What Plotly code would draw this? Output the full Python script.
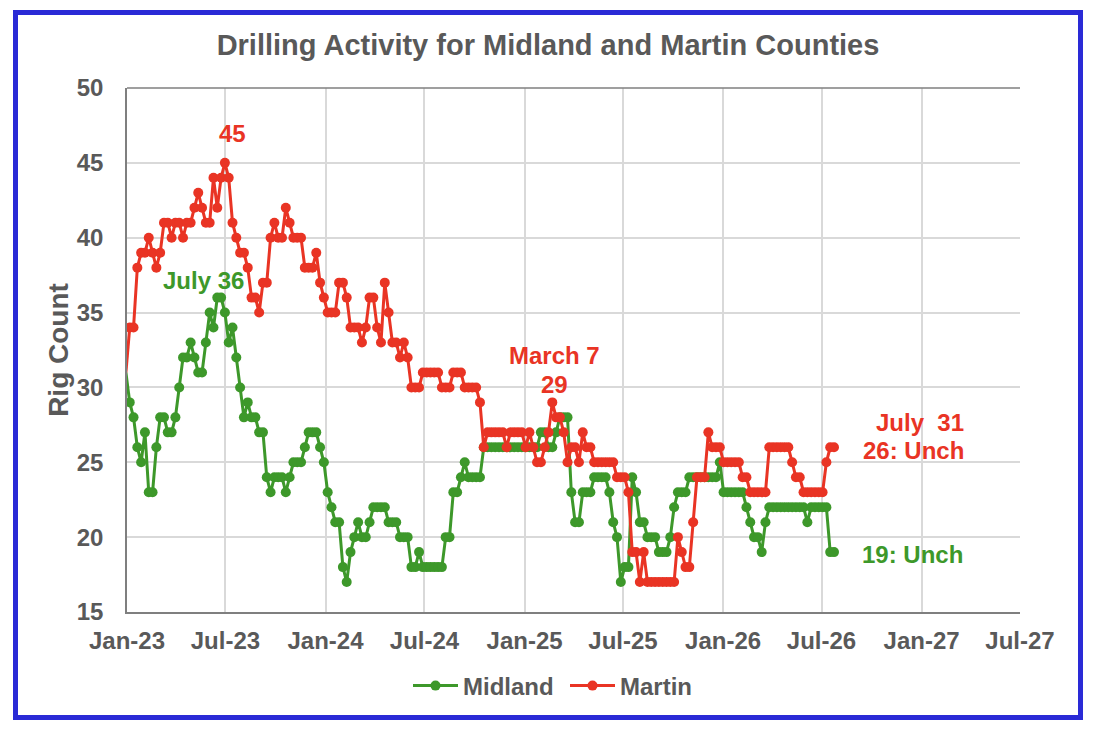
import pandas as pd
import plotly.graph_objects as go

# ---- data (weekly rig counts, first value is the week before Jan-23, clipped by the axis) ----
start_date = "2022-12-30"
midland = [31,
    29,28,26,25,27,23,23,26,28,28,
    27,27,28,30,32,32,33,32,31,31,
    33,35,34,36,36,35,33,34,32,30,
    28,29,28,28,27,27,24,23,24,24,
    24,23,24,25,25,25,26,27,27,27,
    26,25,23,22,21,21,18,17,19,20,
    21,20,20,21,22,22,22,22,21,21,
    21,20,20,20,18,18,19,18,18,18,
    18,18,18,20,20,23,23,24,25,24,
    24,24,24,26,26,26,26,26,26,26,
    26,26,26,26,26,26,26,26,27,27,
    26,26,27,28,28,28,23,21,21,23,
    23,23,24,24,24,24,23,21,20,17,
    18,18,24,23,21,21,20,20,20,19,
    19,19,20,22,23,23,23,24,24,24,
    24,24,24,24,24,25,23,23,23,23,
    23,23,22,21,20,20,19,21,22,22,
    22,22,22,22,22,22,22,22,21,22,
    22,22,22,22,19,19]
martin = [31,
    34,34,38,39,39,40,39,38,39,41,
    41,40,41,41,40,41,41,42,43,42,
    41,41,44,42,44,45,44,41,40,39,
    39,38,36,36,35,37,37,40,41,40,
    40,42,41,40,40,40,38,38,38,39,
    37,36,35,35,35,37,37,36,34,34,
    34,33,34,36,36,34,33,37,35,33,
    33,32,33,32,30,30,30,31,31,31,
    31,31,30,30,30,31,31,31,30,30,
    30,30,29,26,27,27,27,27,27,26,
    27,27,27,27,26,27,26,25,25,26,
    27,29,28,28,27,25,26,26,25,27,
    26,26,25,25,25,25,25,25,24,24,
    24,23,19,19,17,19,17,17,17,17,
    17,17,17,17,20,19,18,18,21,24,
    24,24,27,26,26,26,25,25,25,25,
    25,24,24,23,23,23,23,23,26,26,
    26,26,26,26,25,24,24,23,23,23,
    23,23,23,25,26,26]

tick_dates = ["2023-01-01", "2023-07-01", "2024-01-01", "2024-07-01", "2025-01-01",
              "2025-07-01", "2026-01-01", "2026-07-01", "2027-01-01", "2027-07-01"]
tick_labels = ["Jan-23", "Jul-23", "Jan-24", "Jul-24", "Jan-25",
               "Jul-25", "Jan-26", "Jul-26", "Jan-27", "Jul-27"]
y_ticks = [15, 20, 25, 30, 35, 40, 45, 50]

dates = pd.date_range(start_date, periods=len(midland), freq="7D")

GREEN = "#3D982A"
RED = "#E93424"
GRAY = "#595959"
FONT = "Liberation Sans"

fig = go.Figure()
for name, vals, col in [("Midland", midland, GREEN), ("Martin", martin, RED)]:
    # lead-in segment from the week before the axis start (line only, clipped)
    fig.add_trace(go.Scatter(x=dates[:2], y=vals[:2], mode="lines", showlegend=False,
                             hoverinfo="skip", line=dict(color=col, width=3)))
    fig.add_trace(go.Scatter(x=dates[1:], y=vals[1:], name=name, mode="lines+markers",
                             line=dict(color=col, width=3),
                             marker=dict(color=col, size=10)))

# page body has an 8px margin, so the figure sits at (8, 8)
OFF = 8
W, H = 1080, 716
L, R, T, B = 119, 68, 80, 112
pw, ph = W - L - R, H - T - B


def px(x):
    return (x - OFF - L) / pw


def py(y):
    return (H - B - (y - OFF)) / ph


def note(text, x, y, color, size=24):
    fig.add_annotation(text=text, x=px(x), y=py(y), xref="paper", yref="paper",
                       showarrow=False, xanchor="center", yanchor="middle",
                       font=dict(family=FONT, size=size, color=color, weight="bold"))


note("45", 232, 133, RED)
note("July 36", 203, 280, GREEN)
note("March 7", 554, 355, RED)
note("29", 554, 384, RED)
note("July\u00a0\u00a031", 920, 422, RED)
note("26: Unch", 913, 450, RED)
note("19: Unch", 912, 554, GREEN)

# outer blue frame
fig.add_shape(type="rect", xref="paper", yref="paper",
              x0=px(15.5), x1=px(1080.5), y0=py(717.5), y1=py(12.5),
              line=dict(color="#2A2AD6", width=5), layer="above")
# top border of plot area
fig.add_shape(type="line", xref="paper", yref="paper", x0=0, x1=1, y0=1, y1=1,
              line=dict(color="#7F7F7F", width=1.5))

fig.update_layout(
    width=W, height=H,
    margin=dict(l=L, r=R, t=T, b=B),
    paper_bgcolor="white", plot_bgcolor="white",
    title=dict(text="Drilling Activity for Midland and Martin Counties",
               x=(548 - OFF) / W, y=1 - (45 - OFF) / H, xanchor="center", yanchor="middle",
               font=dict(family=FONT, size=29, color=GRAY, weight="bold")),
    showlegend=True,
    legend=dict(orientation="h", x=px(565), y=py(686), xanchor="center", yanchor="middle",
                font=dict(family=FONT, size=24, color=GRAY, weight="bold"),
                itemwidth=45, entrywidth=97, entrywidthmode="pixels",
                bgcolor="rgba(0,0,0,0)"),
    xaxis=dict(type="date", range=["2023-01-01", "2027-07-01"],
               tickvals=tick_dates, ticktext=tick_labels,
               showgrid=True, gridcolor="#D9D9D9", gridwidth=1.5,
               showline=True, linecolor="#7F7F7F", linewidth=1.5,
               ticks="", ticklabelstandoff=6,
               tickfont=dict(family=FONT, size=24, color=GRAY, weight="bold"),
               zeroline=False),
    yaxis=dict(range=[15, 50], tickvals=y_ticks,
               showgrid=True, gridcolor="#D9D9D9", gridwidth=1.5,
               showline=True, linecolor="#7F7F7F", linewidth=1.5,
               ticks="", ticklabelstandoff=17,
               tickfont=dict(family=FONT, size=24, color=GRAY, weight="bold"),
               title=dict(text="Rig Count", standoff=0,
                          font=dict(family=FONT, size=28, color=GRAY, weight="bold")),
               zeroline=False),
)

fig.write_html("out.html")
